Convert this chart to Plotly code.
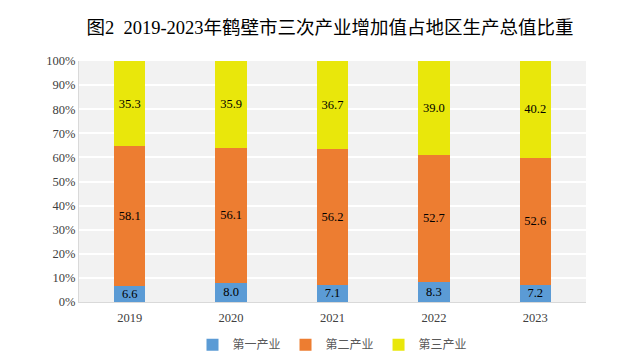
import plotly.graph_objects as go

years = ["2019", "2020", "2021", "2022", "2023"]
primary = [6.6, 8.0, 7.1, 8.3, 7.2]
secondary = [58.1, 56.1, 56.2, 52.7, 52.6]
tertiary = [35.3, 35.9, 36.7, 39.0, 40.2]
names = ["第一产业", "第二产业", "第三产业"]
colors = ["#5B9BD5", "#ED7D31", "#E9E70B"]

serif = "Liberation Serif, Times New Roman, Noto Sans CJK SC"

fig = go.Figure()
for name, vals, col in zip(names, [primary, secondary, tertiary], colors):
    fig.add_trace(go.Bar(
        x=years, y=vals, name=name, marker=dict(color=col, line=dict(width=0)),
        texttemplate="%{y:.1f}", textposition="inside", insidetextanchor="middle",
        textfont=dict(family=serif, size=12.5, color="#000000"),
        constraintext="none",
    ))

fig.update_layout(
    barmode="stack", bargap=0.69,
    width=637, height=361,
    margin=dict(l=79, r=51, t=61, b=59, autoexpand=False),
    paper_bgcolor="white", plot_bgcolor="#F2F2F2",
    title=dict(text="图2  2019-2023年鹤壁市三次产业增加值占地区生产总值比重",
               x=0.518, xanchor="center", y=0.925, yanchor="middle",
               font=dict(family=serif, size=18.5, color="#000000")),
    legend=dict(orientation="h", x=0.5, xanchor="center", yref="container",
                y=0.045, yanchor="middle",
                font=dict(family="Noto Sans CJK SC", size=12, color="#595959"),
                itemwidth=30, tracegroupgap=0, traceorder="normal"),
    showlegend=True,
    xaxis=dict(showline=True, linecolor="#D9D9D9", linewidth=1, ticks="",
               tickfont=dict(family=serif, size=12.5, color="#404040"), ticklabelstandoff=4),
    yaxis=dict(range=[0, 100], dtick=10, ticksuffix="%", showgrid=True, gridcolor="#FFFFFF",
               gridwidth=1.5, showline=True, linecolor="#D9D9D9", linewidth=1, zeroline=False,
               tickfont=dict(family=serif, size=12.5, color="#404040")),
)

fig.write_html("out.html", post_script="document.body.style.margin='0';",
               config={"displayModeBar": False})
